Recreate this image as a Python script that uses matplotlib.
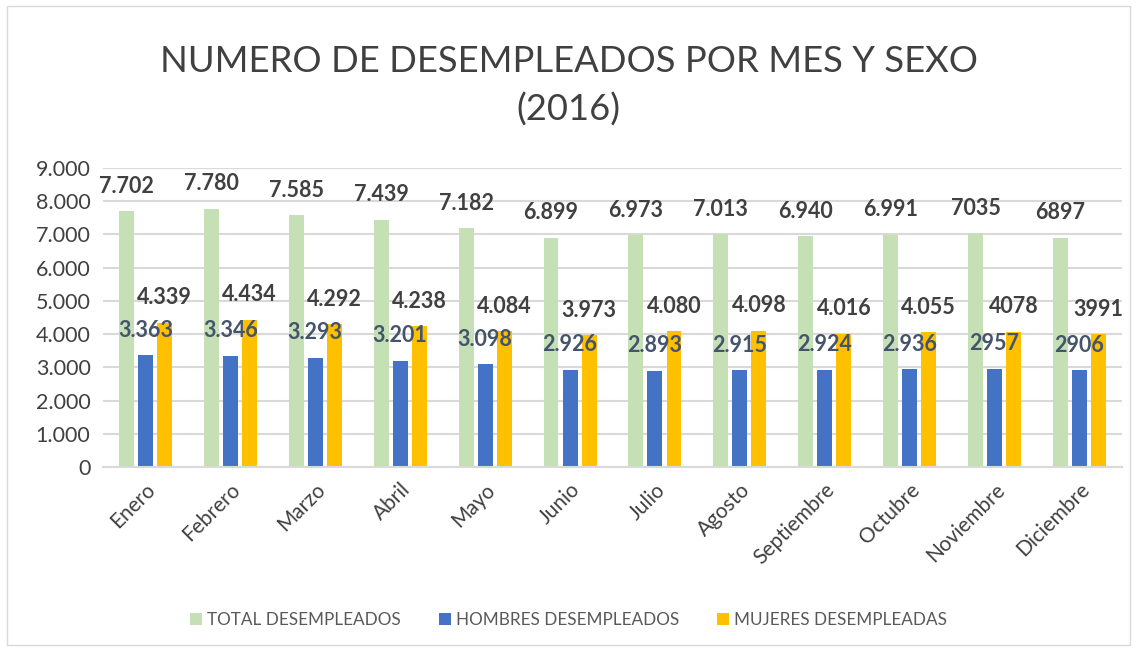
import matplotlib.pyplot as plt
import numpy as np
from matplotlib.patches import Rectangle

meses = ["Enero", "Febrero", "Marzo", "Abril", "Mayo", "Junio", "Julio",
         "Agosto", "Septiembre", "Octubre", "Noviembre", "Diciembre"]
total = [7702, 7780, 7585, 7439, 7182, 6899, 6973, 7013, 6940, 6991, 7035, 6897]
hombres = [3363, 3346, 3293, 3201, 3098, 2926, 2893, 2915, 2924, 2936, 2957, 2906]
mujeres = [4339, 4434, 4292, 4238, 4084, 3973, 4080, 4098, 4016, 4055, 4078, 3991]

# etiquetas tal como aparecen en el grafico original
et_total = ["7.702", "7.780", "7.585", "7.439", "7.182", "6.899", "6.973",
            "7.013", "6.940", "6.991", "7035", "6897"]
et_hombres = ["3.363", "3.346", "3.293", "3.201", "3.098", "2.926", "2.893",
              "2.915", "2.924", "2.936", "2957", "2906"]
et_mujeres = ["4.339", "4.434", "4.292", "4.238", "4.084", "3.973", "4.080",
              "4.098", "4.016", "4.055", "4078", "3991"]

yticks = [0, 1000, 2000, 3000, 4000, 5000, 6000, 7000, 8000, 9000]
ytick_labels = ["0", "1.000", "2.000", "3.000", "4.000", "5.000",
                "6.000", "7.000", "8.000", "9.000"]

plt.rcParams['font.family'] = ['Lato', 'DejaVu Sans']

fig = plt.figure(figsize=(11.37, 6.51), dpi=100)
fig.patches.append(Rectangle((7 / 1137, 6 / 651), 1123 / 1137, 639 / 651,
                             transform=fig.transFigure, fill=False,
                             edgecolor="#d9d9d9", linewidth=1))
ax = fig.add_axes([103 / 1137, 1 - 467 / 651, 1019 / 1137, 299 / 651])

x = np.arange(len(meses))
w = 0.176
step = 0.224
series = [
    (total, et_total, "#C5E0B4", "#404040", "TOTAL DESEMPLEADOS"),
    (hombres, et_hombres, "#4472C4", "#44546A", "HOMBRES DESEMPLEADOS"),
    (mujeres, et_mujeres, "#FFC000", "#404040", "MUJERES DESEMPLEADAS"),
]
for i, (vals, labs, col, tcol, name) in enumerate(series):
    pos = x + (i - 1) * step
    ax.bar(pos, vals, width=w, color=col, label=name, zorder=2)
for i, (vals, labs, col, tcol, name) in enumerate(series):
    pos = x + (i - 1) * step
    for p, v, s in zip(pos, vals, labs):
        ax.annotate(s, (p, v), xytext=(0, 18), textcoords="offset points",
                    ha="center", va="center", fontsize=15.5, fontweight="bold",
                    color=tcol, zorder=5)

ax.set_xlim(-0.5, len(meses) - 0.5)
ax.set_ylim(0, 9000)
ax.set_yticks(yticks)
ax.set_yticklabels(ytick_labels, fontsize=15.5, color="#404040")
ax.set_xticks(x)
ax.set_xticklabels(meses, rotation=45, ha="right", rotation_mode="anchor",
                   fontsize=15, color="#404040")
ax.tick_params(length=0, pad=9)
ax.grid(axis="y", color="#d9d9d9", linewidth=1.5, zorder=0)
for s in ["top", "right", "left"]:
    ax.spines[s].set_visible(False)
ax.spines["bottom"].set_color("#d9d9d9")
ax.spines["bottom"].set_linewidth(1.5)

fig.text(0.5, 1 - 86 / 651, "NUMERO DE DESEMPLEADOS POR MES Y SEXO\n(2016)",
         ha="center", va="center", fontsize=26.2, color="#404040",
         linespacing=1.5)

fig.legend(loc="center", bbox_to_anchor=(0.5, 1 - 620 / 651), ncol=3,
           frameon=False, fontsize=12.3, handlelength=0.7, handleheight=0.7,
           columnspacing=2.2, handletextpad=0.3, labelcolor="#595959")

fig.savefig("out.png", dpi=100)
